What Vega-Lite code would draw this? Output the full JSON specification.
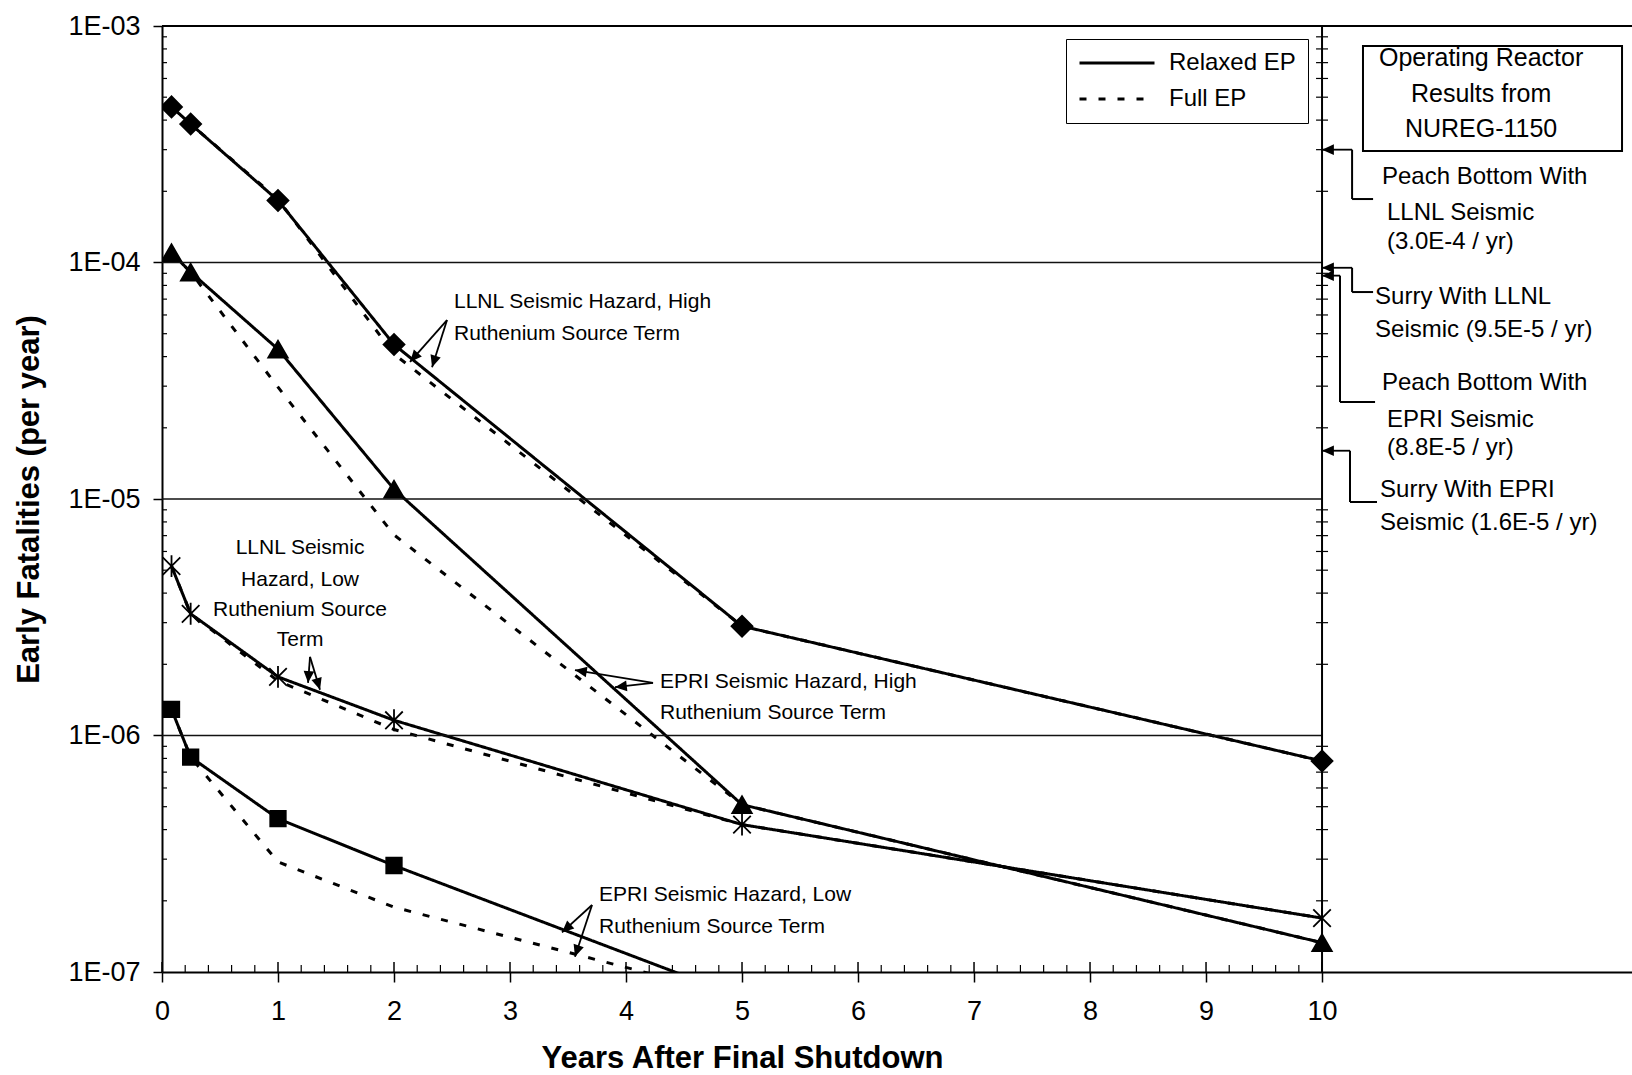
{
  "$schema": "https://vega.github.io/schema/vega-lite/v6.json",
  "width": 1470,
  "height": 946,
  "autosize": {"type": "none"},
  "padding": {"left": 162, "top": 26, "right": 0, "bottom": 103},
  "background": "white",
  "config": {
    "view": {"stroke": null},
    "font": "Liberation Sans",
    "axis": {"labelFont": "Liberation Sans", "titleFont": "Liberation Sans", "labelColor": "black", "titleColor": "black", "domainColor": "black", "tickColor": "black"},
    "legend": {"labelFont": "Liberation Sans"}
  },
  "datasets": {
    "curves": [
      {"case": "LLNL seismic, high ruthenium", "ep": "Relaxed EP", "years": 0.082, "rate": 4.55e-4},
      {"case": "LLNL seismic, high ruthenium", "ep": "Relaxed EP", "years": 0.247, "rate": 3.85e-4},
      {"case": "LLNL seismic, high ruthenium", "ep": "Relaxed EP", "years": 1, "rate": 1.83e-4},
      {"case": "LLNL seismic, high ruthenium", "ep": "Relaxed EP", "years": 2, "rate": 4.5e-5},
      {"case": "LLNL seismic, high ruthenium", "ep": "Relaxed EP", "years": 5, "rate": 2.9e-6},
      {"case": "LLNL seismic, high ruthenium", "ep": "Relaxed EP", "years": 10, "rate": 7.8e-7},
      {"case": "LLNL seismic, high ruthenium", "ep": "Full EP", "years": 0.082, "rate": 4.55e-4},
      {"case": "LLNL seismic, high ruthenium", "ep": "Full EP", "years": 0.247, "rate": 3.85e-4},
      {"case": "LLNL seismic, high ruthenium", "ep": "Full EP", "years": 1, "rate": 1.85e-4},
      {"case": "LLNL seismic, high ruthenium", "ep": "Full EP", "years": 2, "rate": 4.1e-5},
      {"case": "LLNL seismic, high ruthenium", "ep": "Full EP", "years": 5, "rate": 2.9e-6},
      {"case": "LLNL seismic, high ruthenium", "ep": "Full EP", "years": 10, "rate": 7.8e-7},
      {"case": "EPRI seismic, high ruthenium", "ep": "Relaxed EP", "years": 0.082, "rate": 1.1e-4},
      {"case": "EPRI seismic, high ruthenium", "ep": "Relaxed EP", "years": 0.247, "rate": 9.1e-5},
      {"case": "EPRI seismic, high ruthenium", "ep": "Relaxed EP", "years": 1, "rate": 4.3e-5},
      {"case": "EPRI seismic, high ruthenium", "ep": "Relaxed EP", "years": 2, "rate": 1.1e-5},
      {"case": "EPRI seismic, high ruthenium", "ep": "Relaxed EP", "years": 5, "rate": 5.1e-7},
      {"case": "EPRI seismic, high ruthenium", "ep": "Relaxed EP", "years": 10, "rate": 1.33e-7},
      {"case": "EPRI seismic, high ruthenium", "ep": "Full EP", "years": 0.082, "rate": 1.1e-4},
      {"case": "EPRI seismic, high ruthenium", "ep": "Full EP", "years": 0.247, "rate": 9.1e-5},
      {"case": "EPRI seismic, high ruthenium", "ep": "Full EP", "years": 1, "rate": 2.97e-5},
      {"case": "EPRI seismic, high ruthenium", "ep": "Full EP", "years": 2, "rate": 7.05e-6},
      {"case": "EPRI seismic, high ruthenium", "ep": "Full EP", "years": 5, "rate": 5.1e-7},
      {"case": "EPRI seismic, high ruthenium", "ep": "Full EP", "years": 10, "rate": 1.33e-7},
      {"case": "LLNL seismic, low ruthenium", "ep": "Relaxed EP", "years": 0.082, "rate": 5.2e-6},
      {"case": "LLNL seismic, low ruthenium", "ep": "Relaxed EP", "years": 0.247, "rate": 3.27e-6},
      {"case": "LLNL seismic, low ruthenium", "ep": "Relaxed EP", "years": 1, "rate": 1.77e-6},
      {"case": "LLNL seismic, low ruthenium", "ep": "Relaxed EP", "years": 2, "rate": 1.16e-6},
      {"case": "LLNL seismic, low ruthenium", "ep": "Relaxed EP", "years": 5, "rate": 4.2e-7},
      {"case": "LLNL seismic, low ruthenium", "ep": "Relaxed EP", "years": 10, "rate": 1.69e-7},
      {"case": "LLNL seismic, low ruthenium", "ep": "Full EP", "years": 0.082, "rate": 5.2e-6},
      {"case": "LLNL seismic, low ruthenium", "ep": "Full EP", "years": 0.247, "rate": 3.27e-6},
      {"case": "LLNL seismic, low ruthenium", "ep": "Full EP", "years": 1, "rate": 1.7e-6},
      {"case": "LLNL seismic, low ruthenium", "ep": "Full EP", "years": 2, "rate": 1.06e-6},
      {"case": "LLNL seismic, low ruthenium", "ep": "Full EP", "years": 5, "rate": 4.2e-7},
      {"case": "LLNL seismic, low ruthenium", "ep": "Full EP", "years": 10, "rate": 1.69e-7},
      {"case": "EPRI seismic, low ruthenium", "ep": "Relaxed EP", "years": 0.082, "rate": 1.29e-6},
      {"case": "EPRI seismic, low ruthenium", "ep": "Relaxed EP", "years": 0.247, "rate": 8.1e-7},
      {"case": "EPRI seismic, low ruthenium", "ep": "Relaxed EP", "years": 1, "rate": 4.45e-7},
      {"case": "EPRI seismic, low ruthenium", "ep": "Relaxed EP", "years": 2, "rate": 2.82e-7},
      {"case": "EPRI seismic, low ruthenium", "ep": "Relaxed EP", "years": 5, "rate": 7.8e-8},
      {"case": "EPRI seismic, low ruthenium", "ep": "Full EP", "years": 0.082, "rate": 1.29e-6},
      {"case": "EPRI seismic, low ruthenium", "ep": "Full EP", "years": 0.247, "rate": 8.1e-7},
      {"case": "EPRI seismic, low ruthenium", "ep": "Full EP", "years": 1, "rate": 2.92e-7},
      {"case": "EPRI seismic, low ruthenium", "ep": "Full EP", "years": 2, "rate": 1.88e-7},
      {"case": "EPRI seismic, low ruthenium", "ep": "Full EP", "years": 5, "rate": 7.8e-8}
    ],
    "grid": [{"v": 1e-4}, {"v": 1e-5}, {"v": 1e-6}],
    "yMinor": [
      {"v": 2e-7}, {"v": 3e-7}, {"v": 4e-7}, {"v": 5e-7}, {"v": 6e-7}, {"v": 7e-7}, {"v": 8e-7}, {"v": 9e-7},
      {"v": 2e-6}, {"v": 3e-6}, {"v": 4e-6}, {"v": 5e-6}, {"v": 6e-6}, {"v": 7e-6}, {"v": 8e-6}, {"v": 9e-6},
      {"v": 2e-5}, {"v": 3e-5}, {"v": 4e-5}, {"v": 5e-5}, {"v": 6e-5}, {"v": 7e-5}, {"v": 8e-5}, {"v": 9e-5},
      {"v": 2e-4}, {"v": 3e-4}, {"v": 4e-4}, {"v": 5e-4}, {"v": 6e-4}, {"v": 7e-4}, {"v": 8e-4}, {"v": 9e-4}
    ],
    "xMajor": [{"t": 0}, {"t": 1}, {"t": 2}, {"t": 3}, {"t": 4}, {"t": 5}, {"t": 6}, {"t": 7}, {"t": 8}, {"t": 9}, {"t": 10}],
    "xMinor": [
      {"t": 0.2}, {"t": 0.4}, {"t": 0.6}, {"t": 0.8}, {"t": 1.2}, {"t": 1.4}, {"t": 1.6}, {"t": 1.8},
      {"t": 2.2}, {"t": 2.4}, {"t": 2.6}, {"t": 2.8}, {"t": 3.2}, {"t": 3.4}, {"t": 3.6}, {"t": 3.8},
      {"t": 4.2}, {"t": 4.4}, {"t": 4.6}, {"t": 4.8}, {"t": 5.2}, {"t": 5.4}, {"t": 5.6}, {"t": 5.8},
      {"t": 6.2}, {"t": 6.4}, {"t": 6.6}, {"t": 6.8}, {"t": 7.2}, {"t": 7.4}, {"t": 7.6}, {"t": 7.8},
      {"t": 8.2}, {"t": 8.4}, {"t": 8.6}, {"t": 8.8}, {"t": 9.2}, {"t": 9.4}, {"t": 9.6}, {"t": 9.8}
    ],
    "pointers": [
      {"ox": 2.457, "oy": 5.71e-5, "tx": 2.138, "ty": 3.8e-5},
      {"ox": 2.457, "oy": 5.71e-5, "tx": 2.328, "ty": 3.61e-5},
      {"ox": 1.276, "oy": 2.15e-6, "tx": 1.259, "ty": 1.67e-6},
      {"ox": 1.276, "oy": 2.15e-6, "tx": 1.362, "ty": 1.56e-6},
      {"ox": 4.233, "oy": 1.67e-6, "tx": 3.56, "ty": 1.89e-6},
      {"ox": 4.233, "oy": 1.67e-6, "tx": 3.905, "ty": 1.6e-6},
      {"ox": 3.707, "oy": 1.92e-7, "tx": 3.448, "ty": 1.47e-7},
      {"ox": 3.707, "oy": 1.92e-7, "tx": 3.56, "ty": 1.16e-7},
      {"ox": 10.259, "oy": 3.0e-4, "tx": 10, "ty": 3.0e-4},
      {"ox": 10.259, "oy": 9.5e-5, "tx": 10, "ty": 9.5e-5},
      {"ox": 10.155, "oy": 8.8e-5, "tx": 10, "ty": 8.8e-5},
      {"ox": 10.241, "oy": 1.6e-5, "tx": 10, "ty": 1.6e-5}
    ],
    "leaders": [
      {"x": 10.259, "y": 3.0e-4, "x2": 10.259, "y2": 1.855e-4},
      {"x": 10.259, "y": 1.855e-4, "x2": 10.44, "y2": 1.855e-4},
      {"x": 10.259, "y": 9.5e-5, "x2": 10.259, "y2": 7.5e-5},
      {"x": 10.259, "y": 7.5e-5, "x2": 10.44, "y2": 7.5e-5},
      {"x": 10.155, "y": 8.8e-5, "x2": 10.155, "y2": 2.57e-5},
      {"x": 10.155, "y": 2.57e-5, "x2": 10.457, "y2": 2.57e-5},
      {"x": 10.241, "y": 1.6e-5, "x2": 10.241, "y2": 9.71e-6},
      {"x": 10.241, "y": 9.71e-6, "x2": 10.474, "y2": 9.71e-6}
    ],
    "curveNotes": [
      {"text": "LLNL Seismic Hazard, High", "x": 2.517, "y": 6.81e-5},
      {"text": "Ruthenium Source Term", "x": 2.517, "y": 4.99e-5},
      {"text": "EPRI Seismic Hazard, High", "x": 4.293, "y": 1.68e-6},
      {"text": "Ruthenium Source Term", "x": 4.293, "y": 1.245e-6},
      {"text": "EPRI Seismic Hazard, Low", "x": 3.767, "y": 2.12e-7},
      {"text": "Ruthenium Source Term", "x": 3.767, "y": 1.55e-7}
    ],
    "lowNote": [
      {"text": "LLNL Seismic", "x": 1.19, "y": 6.21e-6},
      {"text": "Hazard, Low", "x": 1.19, "y": 4.55e-6},
      {"text": "Ruthenium Source", "x": 1.19, "y": 3.4e-6},
      {"text": "Term", "x": 1.19, "y": 2.54e-6}
    ],
    "reactorNotes": [
      {"text": "Peach Bottom With", "x": 10.517, "y": 2.3e-4},
      {"text": "LLNL Seismic", "x": 10.56, "y": 1.62e-4},
      {"text": "(3.0E-4 / yr)", "x": 10.56, "y": 1.22e-4},
      {"text": "Surry  With LLNL", "x": 10.457, "y": 7.15e-5},
      {"text": "Seismic (9.5E-5 / yr)", "x": 10.457, "y": 5.19e-5},
      {"text": "Peach Bottom With", "x": 10.517, "y": 3.09e-5},
      {"text": "EPRI Seismic", "x": 10.56, "y": 2.16e-5},
      {"text": "(8.8E-5 / yr)", "x": 10.56, "y": 1.64e-5},
      {"text": "Surry With EPRI", "x": 10.5, "y": 1.09e-5},
      {"text": "Seismic (1.6E-5 / yr)", "x": 10.5, "y": 7.92e-6}
    ],
    "panel": [{"x": 10.353, "x2": 12.586, "y": 8.23e-4, "y2": 2.96e-4}],
    "panelTitle": [
      {"text": "Operating Reactor", "x": 11.371, "y": 7.33e-4},
      {"text": "Results from", "x": 11.371, "y": 5.16e-4},
      {"text": "NUREG-1150", "x": 11.371, "y": 3.67e-4}
    ]
  },
  "layer": [
    {
      "data": {"name": "curves"},
      "mark": {"type": "line", "color": "black", "strokeWidth": 3, "clip": true},
      "encoding": {
        "x": {
          "field": "years", "type": "quantitative",
          "scale": {"domain": [0, 12.672], "nice": false, "zero": false},
          "axis": {
            "values": [0, 1, 2, 3, 4, 5, 6, 7, 8, 9, 10], "format": "d", "labelFlush": false, "labelOverlap": false,
            "grid": false, "domainWidth": 2, "tickSize": 10, "tickWidth": 1.5,
            "labelFontSize": 27, "labelPadding": 16,
            "title": "Years After Final Shutdown", "titleFontSize": 31, "titleFontWeight": "bold",
            "titleX": 580, "titleY": 86, "titleAlign": "center", "titleBaseline": "middle"
          }
        },
        "y": {
          "field": "rate", "type": "quantitative",
          "scale": {"type": "log", "domain": [1e-7, 0.001], "nice": false},
          "axis": {
            "values": [1e-7, 1e-6, 1e-5, 1e-4, 0.001],
            "labelExpr": "'1E-0' + abs(round(log(datum.value) / LN10))",
            "labelOverlap": false, "labelFlush": false,
            "grid": false, "domainWidth": 2, "tickSize": 9, "tickWidth": 1.5,
            "labelFontSize": 27, "labelPadding": 13,
            "title": "Early Fatalities (per year)", "titleFontSize": 31, "titleFontWeight": "bold",
            "titleX": -133, "titleY": 473, "titleAngle": -90, "titleAlign": "center", "titleBaseline": "middle"
          }
        },
        "detail": {"field": "case", "type": "nominal"},
        "strokeDash": {
          "field": "ep", "type": "nominal",
          "scale": {"domain": ["Relaxed EP", "Full EP"], "range": [[1, 0], [7, 12]]},
          "legend": {
            "orient": "none", "legendX": 904, "legendY": 13, "title": null,
            "symbolType": "stroke", "symbolSize": 5625, "symbolStrokeWidth": 3, "symbolStrokeColor": "black",
            "clipHeight": 24, "rowPadding": 12, "padding": 12, "symbolOffset": 0,
            "labelFontSize": 24, "labelColor": "black", "labelOffset": 13, "labelLimit": 400,
            "strokeColor": "black", "fillColor": "white"
          }
        }
      }
    },
    {
      "data": {"name": "grid"},
      "mark": {"type": "rule", "color": "#111111", "strokeWidth": 1.3},
      "encoding": {
        "x": {"datum": 0, "type": "quantitative"},
        "x2": {"datum": 10},
        "y": {"field": "v", "type": "quantitative", "scale": {"type": "log"}}
      }
    },
    {
      "data": {"values": [{}]},
      "mark": {"type": "rule", "color": "black", "strokeWidth": 2},
      "encoding": {
        "x": {"datum": 0, "type": "quantitative"},
        "x2": {"datum": 12.672},
        "y": {"datum": 0.001, "type": "quantitative", "scale": {"type": "log"}}
      }
    },
    {
      "data": {"values": [{}]},
      "mark": {"type": "rule", "color": "black", "strokeWidth": 2},
      "encoding": {
        "x": {"datum": 10, "type": "quantitative"},
        "y": {"datum": 1e-7, "type": "quantitative", "scale": {"type": "log"}},
        "y2": {"datum": 0.001}
      }
    },
    {
      "data": {"name": "yMinor"},
      "mark": {"type": "tick", "orient": "horizontal", "color": "black", "opacity": 1, "size": 5, "thickness": 1.2, "xOffset": 2.5},
      "encoding": {
        "x": {"datum": 0, "type": "quantitative"},
        "y": {"field": "v", "type": "quantitative", "scale": {"type": "log"}}
      }
    },
    {
      "data": {"name": "yMinor"},
      "mark": {"type": "tick", "orient": "horizontal", "color": "black", "opacity": 1, "size": 12, "thickness": 1.2},
      "encoding": {
        "x": {"datum": 10, "type": "quantitative"},
        "y": {"field": "v", "type": "quantitative", "scale": {"type": "log"}}
      }
    },
    {
      "data": {"name": "xMinor"},
      "mark": {"type": "tick", "orient": "vertical", "color": "black", "opacity": 1, "size": 7, "thickness": 1.2, "yOffset": -3.5},
      "encoding": {
        "x": {"field": "t", "type": "quantitative"},
        "y": {"datum": 1e-7, "type": "quantitative", "scale": {"type": "log"}}
      }
    },
    {
      "data": {"name": "xMajor"},
      "mark": {"type": "tick", "orient": "vertical", "color": "black", "opacity": 1, "size": 10, "thickness": 1.5, "yOffset": -5},
      "encoding": {
        "x": {"field": "t", "type": "quantitative"},
        "y": {"datum": 1e-7, "type": "quantitative", "scale": {"type": "log"}}
      }
    },
    {
      "data": {"name": "curves"},
      "transform": [{"filter": "datum.ep === 'Relaxed EP'"}],
      "mark": {"type": "point", "filled": true, "color": "black", "stroke": "black", "strokeWidth": 1.8, "opacity": 1, "clip": true},
      "encoding": {
        "x": {"field": "years", "type": "quantitative"},
        "y": {"field": "rate", "type": "quantitative", "scale": {"type": "log"}},
        "shape": {
          "field": "case", "type": "nominal",
          "scale": {
            "domain": ["LLNL seismic, high ruthenium", "EPRI seismic, high ruthenium", "LLNL seismic, low ruthenium", "EPRI seismic, low ruthenium"],
            "range": ["diamond", "triangle-up", "M-0.8,-0.8L0.8,0.8M-0.8,0.8L0.8,-0.8M0,-1L0,1", "square"]
          },
          "legend": null
        },
        "size": {
          "condition": [
            {"test": "datum.case === 'EPRI seismic, low ruthenium'", "value": 240},
            {"test": "datum.case === 'LLNL seismic, low ruthenium'", "value": 480},
            {"test": "datum.case === 'EPRI seismic, high ruthenium'", "value": 380}
          ],
          "value": 440
        }
      }
    },
    {
      "data": {"name": "pointers"},
      "mark": {"type": "rule", "color": "black", "strokeWidth": 1.8},
      "encoding": {
        "x": {"field": "ox", "type": "quantitative"},
        "y": {"field": "oy", "type": "quantitative", "scale": {"type": "log"}},
        "x2": {"field": "tx"},
        "y2": {"field": "ty"}
      }
    },
    {
      "data": {"name": "pointers"},
      "mark": {
        "type": "point", "shape": "M0,0L-0.45,1L0.45,1Z", "filled": true, "color": "black", "opacity": 1, "size": 560,
        "angle": {"expr": "atan2(scale('x', datum.tx) - scale('x', datum.ox), scale('y', datum.oy) - scale('y', datum.ty)) * 180 / PI"}
      },
      "encoding": {
        "x": {"field": "tx", "type": "quantitative"},
        "y": {"field": "ty", "type": "quantitative", "scale": {"type": "log"}}
      }
    },
    {
      "data": {"name": "leaders"},
      "mark": {"type": "rule", "color": "black", "strokeWidth": 2},
      "encoding": {
        "x": {"field": "x", "type": "quantitative"},
        "y": {"field": "y", "type": "quantitative", "scale": {"type": "log"}},
        "x2": {"field": "x2"},
        "y2": {"field": "y2"}
      }
    },
    {
      "data": {"name": "panel"},
      "mark": {"type": "rect", "fill": "white", "stroke": "black", "strokeWidth": 2},
      "encoding": {
        "x": {"field": "x", "type": "quantitative"},
        "y": {"field": "y", "type": "quantitative", "scale": {"type": "log"}},
        "x2": {"field": "x2"},
        "y2": {"field": "y2"}
      }
    },
    {
      "data": {"name": "panelTitle"},
      "mark": {"type": "text", "align": "center", "baseline": "middle", "font": "Liberation Sans", "fontSize": 25, "color": "black"},
      "encoding": {
        "x": {"field": "x", "type": "quantitative"},
        "y": {"field": "y", "type": "quantitative", "scale": {"type": "log"}},
        "text": {"field": "text", "type": "nominal"}
      }
    },
    {
      "data": {"name": "reactorNotes"},
      "mark": {"type": "text", "align": "left", "baseline": "middle", "font": "Liberation Sans", "fontSize": 24, "color": "black"},
      "encoding": {
        "x": {"field": "x", "type": "quantitative"},
        "y": {"field": "y", "type": "quantitative", "scale": {"type": "log"}},
        "text": {"field": "text", "type": "nominal"}
      }
    },
    {
      "data": {"name": "curveNotes"},
      "mark": {"type": "text", "align": "left", "baseline": "middle", "font": "Liberation Sans", "fontSize": 21, "color": "black"},
      "encoding": {
        "x": {"field": "x", "type": "quantitative"},
        "y": {"field": "y", "type": "quantitative", "scale": {"type": "log"}},
        "text": {"field": "text", "type": "nominal"}
      }
    },
    {
      "data": {"name": "lowNote"},
      "mark": {"type": "text", "align": "center", "baseline": "middle", "font": "Liberation Sans", "fontSize": 21, "color": "black"},
      "encoding": {
        "x": {"field": "x", "type": "quantitative"},
        "y": {"field": "y", "type": "quantitative", "scale": {"type": "log"}},
        "text": {"field": "text", "type": "nominal"}
      }
    }
  ]
}
